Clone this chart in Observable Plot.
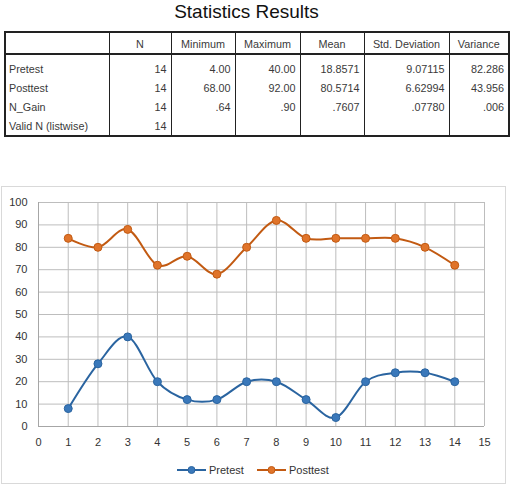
<!DOCTYPE html>
<html>
<head>
<meta charset="utf-8">
<script src="https://cdn.jsdelivr.net/npm/d3@7"></script>
<script src="https://cdn.jsdelivr.net/npm/@observablehq/plot@0.6"></script>
<style>
  body { margin: 0; background: #fff; font-family: "Liberation Sans", Arial, sans-serif; }
  #page { position: relative; width: 510px; height: 484px; overflow: hidden; background: #fff; }
  #title { position: absolute; left: 0; top: 1px; width: 493px; text-align: center; font-size: 19px; color: #111; }
  #stats { position: absolute; left: 4px; top: 31px; border-collapse: collapse; border: 2px solid #222; font-size: 10.8px; color: #3a3a3a; table-layout: fixed; }
  #stats th { font-weight: normal; text-align: center; height: 22px; border-left: 1px solid #222; border-bottom: 2px solid #222; padding: 2px 0 0 0; box-sizing: border-box; }
  #stats td { height: 19px; padding: 0 4px; border-left: 1px solid #222; text-align: right; white-space: nowrap; }
  #stats td.lab { text-align: left; padding-left: 3px; }
  #stats tr.first td { height: 24px; padding-top: 5px; box-sizing: border-box; }
  #frame { position: absolute; left: 1px; top: 186px; width: 503px; height: 296px; border: 1px solid #d9d9d9; }
  #chart { position: absolute; left: 0; top: 186px; }
  #legend { position: absolute; top: 462px; left: 0; width: 510px; height: 16px; font-size: 11px; color: #333; }
  .key { position: absolute; top: 0; display: flex; align-items: center; }
  .key svg { display: block; }
</style>
</head>
<body>
<div id="page">
  <div id="title">Statistics Results</div>
  <table id="stats"></table>
  <div id="frame"></div>
  <div id="chart"></div>
  <div id="legend"></div>
</div>
<script>
// Scores of the 14 students before and after the treatment
const students = [1, 2, 3, 4, 5, 6, 7, 8, 9, 10, 11, 12, 13, 14];
const pretest  = [8, 28, 40, 20, 12, 12, 20, 20, 12, 4, 20, 24, 24, 20];
const posttest = [84, 80, 88, 72, 76, 68, 80, 92, 84, 84, 84, 84, 80, 72];

const xTicks = [0, 1, 2, 3, 4, 5, 6, 7, 8, 9, 10, 11, 12, 13, 14, 15];
const yTicks = [0, 10, 20, 30, 40, 50, 60, 70, 80, 90, 100];

// Descriptive statistics table
const statHeaders = ["", "N", "Minimum", "Maximum", "Mean", "Std. Deviation", "Variance"];
const statRows    = ["Pretest", "Posttest", "N_Gain", "Valid N (listwise)"];
const statN       = ["14", "14", "14", "14"];
const statMin     = ["4.00", "68.00", ".64", ""];
const statMax     = ["40.00", "92.00", ".90", ""];
const statMean    = ["18.8571", "80.5714", ".7607", ""];
const statSD      = ["9.07115", "6.62994", ".07780", ""];
const statVar     = ["82.286", "43.956", ".006", ""];
const colWidths   = [104, 62, 64, 65, 64, 85, 60];

const seriesNames  = ["Pretest", "Posttest"];
const lineColors   = ["#2A64A0", "#C25A12"];
const markerColors = ["#3A78BA", "#E0742A"];

// ---- table ----
const table = document.getElementById("stats");
const colgroup = document.createElement("colgroup");
colWidths.forEach(w => { const c = document.createElement("col"); c.style.width = w + "px"; colgroup.appendChild(c); });
table.appendChild(colgroup);
const head = document.createElement("tr");
statHeaders.forEach((h, i) => {
  const th = document.createElement("th");
  th.textContent = h;
  if (i === 0) th.style.borderLeft = "none";
  head.appendChild(th);
});
table.appendChild(head);
statRows.forEach((name, r) => {
  const tr = document.createElement("tr");
  if (r === 0) tr.className = "first";
  [name, statN[r], statMin[r], statMax[r], statMean[r], statSD[r], statVar[r]].forEach((v, i) => {
    const td = document.createElement("td");
    td.textContent = v;
    if (i === 0) { td.className = "lab"; td.style.borderLeft = "none"; }
    tr.appendChild(td);
  });
  table.appendChild(tr);
});

// ---- chart ----
const data = students.flatMap((s, i) => [
  {student: s, score: pretest[i], series: "Pretest"},
  {student: s, score: posttest[i], series: "Posttest"}
]);

const chart = Plot.plot({
  width: 510,
  height: 298,
  marginLeft: 38,
  marginRight: 26,
  marginTop: 16,
  marginBottom: 58,
  style: {fontFamily: "'Liberation Sans', Arial, sans-serif", fontSize: "11px", color: "#333", background: "transparent"},
  x: {domain: [0, 15], label: null},
  y: {domain: [0, 100], label: null},
  color: {domain: seriesNames, range: lineColors},
  marks: [
    Plot.gridX(xTicks, {stroke: "#bdbdbd", strokeOpacity: 1}),
    Plot.gridY(yTicks, {stroke: "#bdbdbd", strokeOpacity: 1}),
    Plot.ruleY([0], {stroke: "#a6a6a6"}),
    Plot.ruleX([0], {stroke: "#a6a6a6"}),
    Plot.axisX(xTicks, {tickSize: 0, tickPadding: 12, fill: "#333"}),
    Plot.axisY(yTicks, {tickSize: 0, tickPadding: 11, fill: "#333"}),
    Plot.line(data, {x: "student", y: "score", z: "series", stroke: "series", strokeWidth: 2, curve: "cardinal", tension: 0}),
    Plot.dot(data, {x: "student", y: "score", r: 4, fill: d => markerColors[seriesNames.indexOf(d.series)], stroke: "series", strokeWidth: 1})
  ]
});
document.getElementById("chart").appendChild(chart);

// ---- legend ----
const legend = document.getElementById("legend");
const keyLeft = [177, 257];
seriesNames.forEach((name, i) => {
  const item = document.createElement("div");
  item.className = "key";
  item.style.left = keyLeft[i] + "px";
  const svg = d3.create("svg").attr("width", 30).attr("height", 16);
  svg.append("line").attr("x1", 0).attr("x2", 29).attr("y1", 8).attr("y2", 8)
    .attr("stroke", lineColors[i]).attr("stroke-width", 2);
  svg.append("circle").attr("cx", 14.5).attr("cy", 8).attr("r", 3.5)
    .attr("fill", markerColors[i]).attr("stroke", lineColors[i]);
  item.appendChild(svg.node());
  const label = document.createElement("span");
  label.textContent = name;
  label.style.marginLeft = "2px";
  item.appendChild(label);
  legend.appendChild(item);
});
</script>
</body>
</html>
